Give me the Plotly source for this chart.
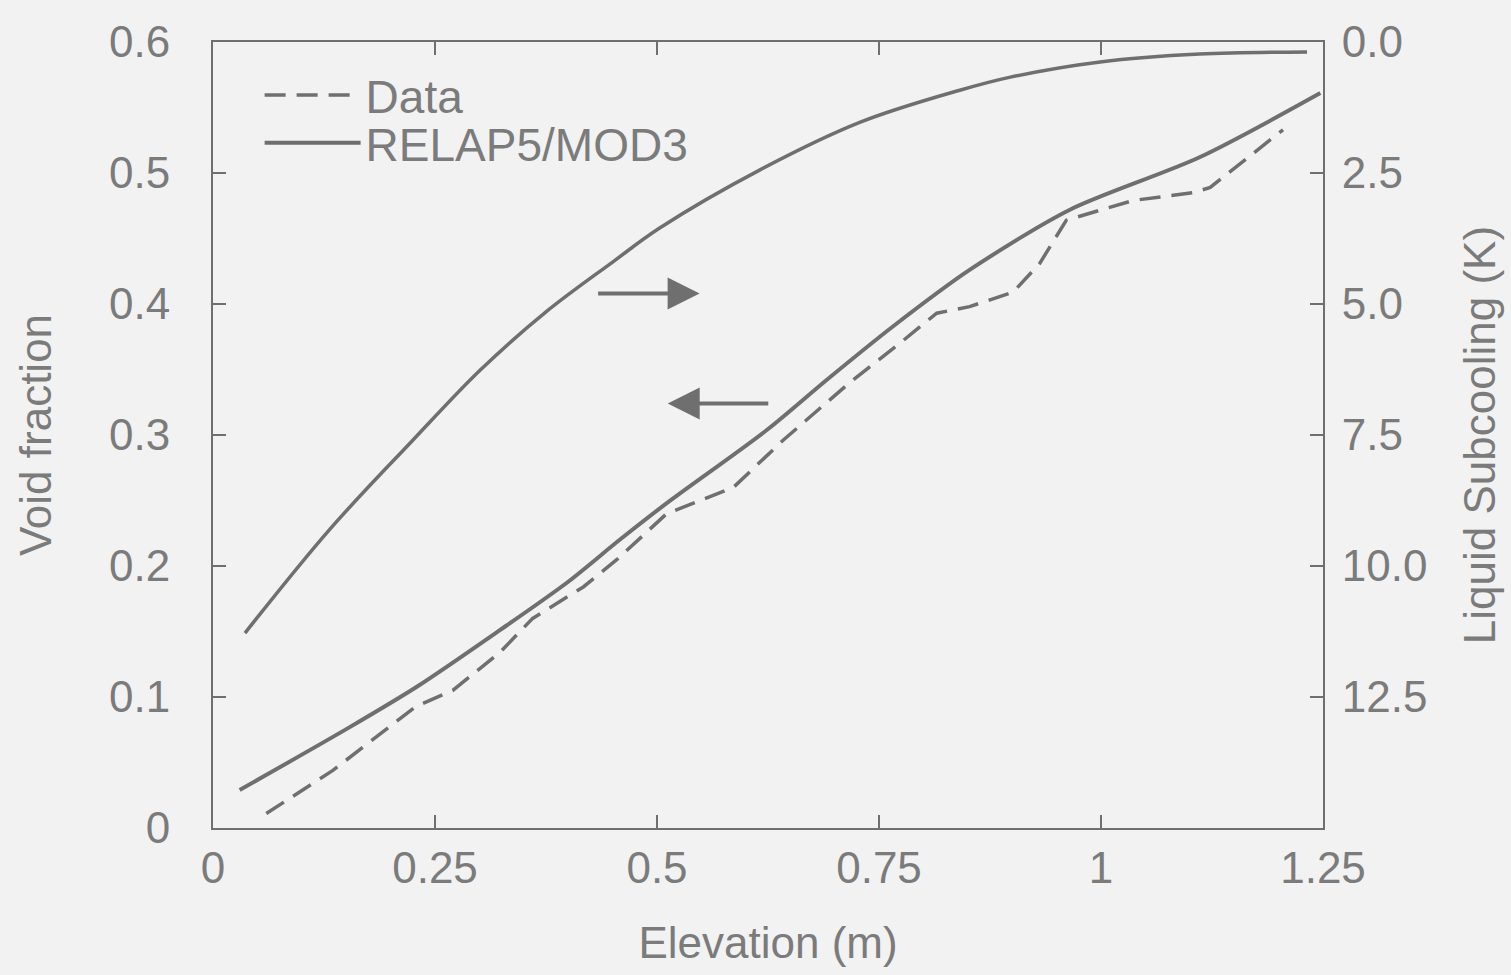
import plotly.graph_objects as go

# ---- data ----
elev_model = [0.03, 0.154, 0.23, 0.323, 0.40, 0.458, 0.511, 0.624, 0.691, 0.766, 0.852, 0.965, 1.111, 1.247]
void_model = [0.029, 0.077, 0.108, 0.151, 0.188, 0.220, 0.248, 0.304, 0.342, 0.383, 0.426, 0.472, 0.512, 0.561]

elev_data = [0.06, 0.135, 0.229, 0.27, 0.323, 0.36, 0.417, 0.455, 0.511, 0.533, 0.586, 0.642,
             0.717, 0.777, 0.815, 0.852, 0.901, 0.931, 0.961, 1.036, 1.104, 1.123, 1.205]
void_data = [0.011, 0.044, 0.093, 0.105, 0.134, 0.160, 0.184, 0.205, 0.240, 0.246, 0.260, 0.296,
             0.340, 0.372, 0.393, 0.398, 0.409, 0.431, 0.464, 0.479, 0.485, 0.489, 0.533]

elev_sub = [0.036, 0.131, 0.225, 0.301, 0.375, 0.450, 0.503, 0.616, 0.729, 0.841, 0.898, 0.999, 1.111, 1.232]
subcool_model = [11.28, 9.31, 7.60, 6.26, 5.15, 4.20, 3.55, 2.44, 1.53, 0.92, 0.67, 0.38, 0.23, 0.19]

x_ticks = [0, 0.25, 0.5, 0.75, 1, 1.25]
x_tick_labels = ["0", "0.25", "0.5", "0.75", "1", "1.25"]
y_ticks = [0, 0.1, 0.2, 0.3, 0.4, 0.5, 0.6]
y_tick_labels = ["0", "0.1", "0.2", "0.3", "0.4", "0.5", "0.6"]
y2_ticks = [0, 2.5, 5, 7.5, 10, 12.5]
y2_tick_labels = ["0.0", "2.5", "5.0", "7.5", "10.0", "12.5"]

# arrows indicating which axis each curve belongs to (tail x, head x, y on left axis)
arrow_right = dict(tail=0.432, head=0.548, y=0.408)
arrow_left = dict(tail=0.627, head=0.512, y=0.324)

# ---- styles ----
BG = "#f2f2f2"
LINE = "#6f6f6f"
TEXT = "#7b7b7b"
FONT = "Liberation Sans, Arial, Helvetica, sans-serif"

fig = go.Figure()
fig.add_trace(go.Scatter(x=elev_data, y=void_data, mode="lines", name="Data",
                         line=dict(color=LINE, width=3.5, dash="21px,11px"),
                         legend="legend"))
fig.add_trace(go.Scatter(x=elev_model, y=void_model, mode="lines", name="RELAP5/MOD3",
                         line=dict(color=LINE, width=4, shape="spline", smoothing=0.8),
                         legend="legend2"))
fig.add_trace(go.Scatter(x=elev_sub, y=subcool_model, mode="lines", name="RELAP5/MOD3",
                         line=dict(color=LINE, width=3.5, shape="spline", smoothing=1.0),
                         yaxis="y2", showlegend=False))

axis_common = dict(showline=True, linecolor=LINE, linewidth=2, ticks="inside", ticklen=13,
                   tickwidth=2, tickcolor=LINE, showgrid=False, zeroline=False, automargin=False,
                   tickfont=dict(family=FONT, size=44, color=TEXT))

fig.update_layout(
    width=1511, height=975,
    margin=dict(l=213, r=188, t=42, b=147),
    paper_bgcolor=BG, plot_bgcolor=BG,
    font=dict(family=FONT, color=TEXT),
    xaxis=dict(range=[0, 1.25], tickvals=x_ticks, ticktext=x_tick_labels, mirror="ticks",
               ticklabelstandoff=0,
               title=dict(text="Elevation (m)", font=dict(family=FONT, size=44, color=TEXT), standoff=36),
               **axis_common),
    yaxis=dict(range=[0, 0.6], tickvals=y_ticks, ticktext=y_tick_labels, ticklabelstandoff=32,
               title=dict(text="Void fraction", font=dict(family=FONT, size=44, color=TEXT), standoff=44),
               **axis_common),
    yaxis2=dict(range=[15, 0], tickvals=y2_ticks, ticktext=y2_tick_labels, overlaying="y", side="right",
                ticklabelstandoff=8,
                title=dict(text="Liquid Subcooling (K)", font=dict(family=FONT, size=44, color=TEXT), standoff=38),
                **axis_common),
    legend=dict(x=0.042, y=0.979, xanchor="left", yanchor="top", bgcolor="rgba(0,0,0,0)",
                itemwidth=96, font=dict(family=FONT, size=46, color=TEXT)),
    legend2=dict(x=0.042, y=0.918, xanchor="left", yanchor="top", bgcolor="rgba(0,0,0,0)",
                 itemwidth=96, font=dict(family=FONT, size=46, color=TEXT)),
    showlegend=True,
)

for arr in (arrow_right, arrow_left):
    fig.add_annotation(x=arr["head"], y=arr["y"], ax=arr["tail"], ay=arr["y"],
                       xref="x", yref="y", axref="x", ayref="y", text="",
                       showarrow=True, arrowhead=2, arrowsize=1.6, arrowwidth=4,
                       arrowcolor=LINE, standoff=0, startstandoff=0)

fig.write_html("out.html")
